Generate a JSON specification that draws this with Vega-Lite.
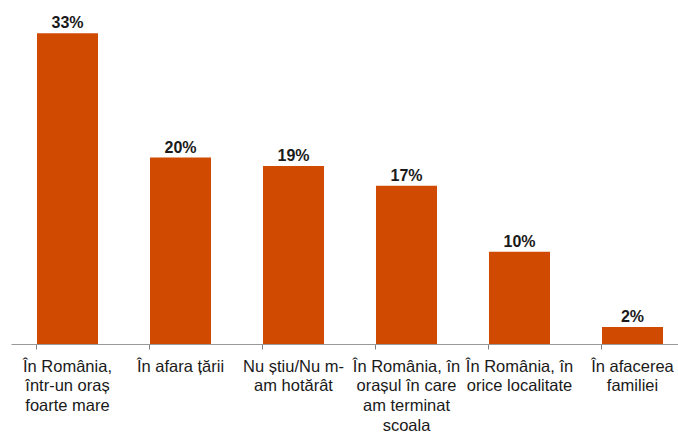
{
  "$schema": "https://vega.github.io/schema/vega-lite/v6.json",
  "width": 667,
  "height": 344,
  "autosize": {"type": "none"},
  "padding": {"left": 11, "top": 0, "right": 0, "bottom": 88},
  "background": "white",
  "config": {"view": {"stroke": null}, "font": "Liberation Sans"},
  "data": {"values": [
    {"category": "În România,\nîntr-un oraș\nfoarte mare", "value": 0.330},
    {"category": "În afara țării", "value": 0.198},
    {"category": "Nu știu/Nu m-\nam hotărât", "value": 0.189},
    {"category": "În România, în\norașul în care\nam terminat\nscoala", "value": 0.168},
    {"category": "În România, în\norice localitate", "value": 0.098},
    {"category": "În afacerea\nfamiliei", "value": 0.018}
  ]},
  "encoding": {
    "x": {"field": "category", "type": "nominal", "sort": null,
      "scale": {"range": [0, 678], "paddingInner": 0.46, "paddingOuter": 0.23},
      "axis": {"title": null, "labelAngle": 0, "labelExpr": "split(datum.label, '\\n')",
        "labelFont": "Liberation Sans", "labelFontSize": 16.5, "labelColor": "#1a1a1a",
        "labelLineHeight": 19.7, "labelPadding": 9, "labelBaseline": "top",
        "bandPosition": 0, "tickSize": 5, "tickColor": "#808080", "domainColor": "#999999",
        "labelLimit": 200}},
    "y": {"field": "value", "type": "quantitative",
      "scale": {"domain": [0, 0.3654], "nice": false}, "axis": null}
  },
  "layer": [
    {"mark": {"type": "bar", "color": "#D04A02"}},
    {"mark": {"type": "text", "dy": -5, "baseline": "alphabetic", "fontSize": 16, "fontWeight": "bold", "font": "Liberation Sans", "color": "#1a1a1a"},
     "encoding": {"text": {"field": "value", "type": "quantitative", "format": ".0%"}}}
  ]
}
